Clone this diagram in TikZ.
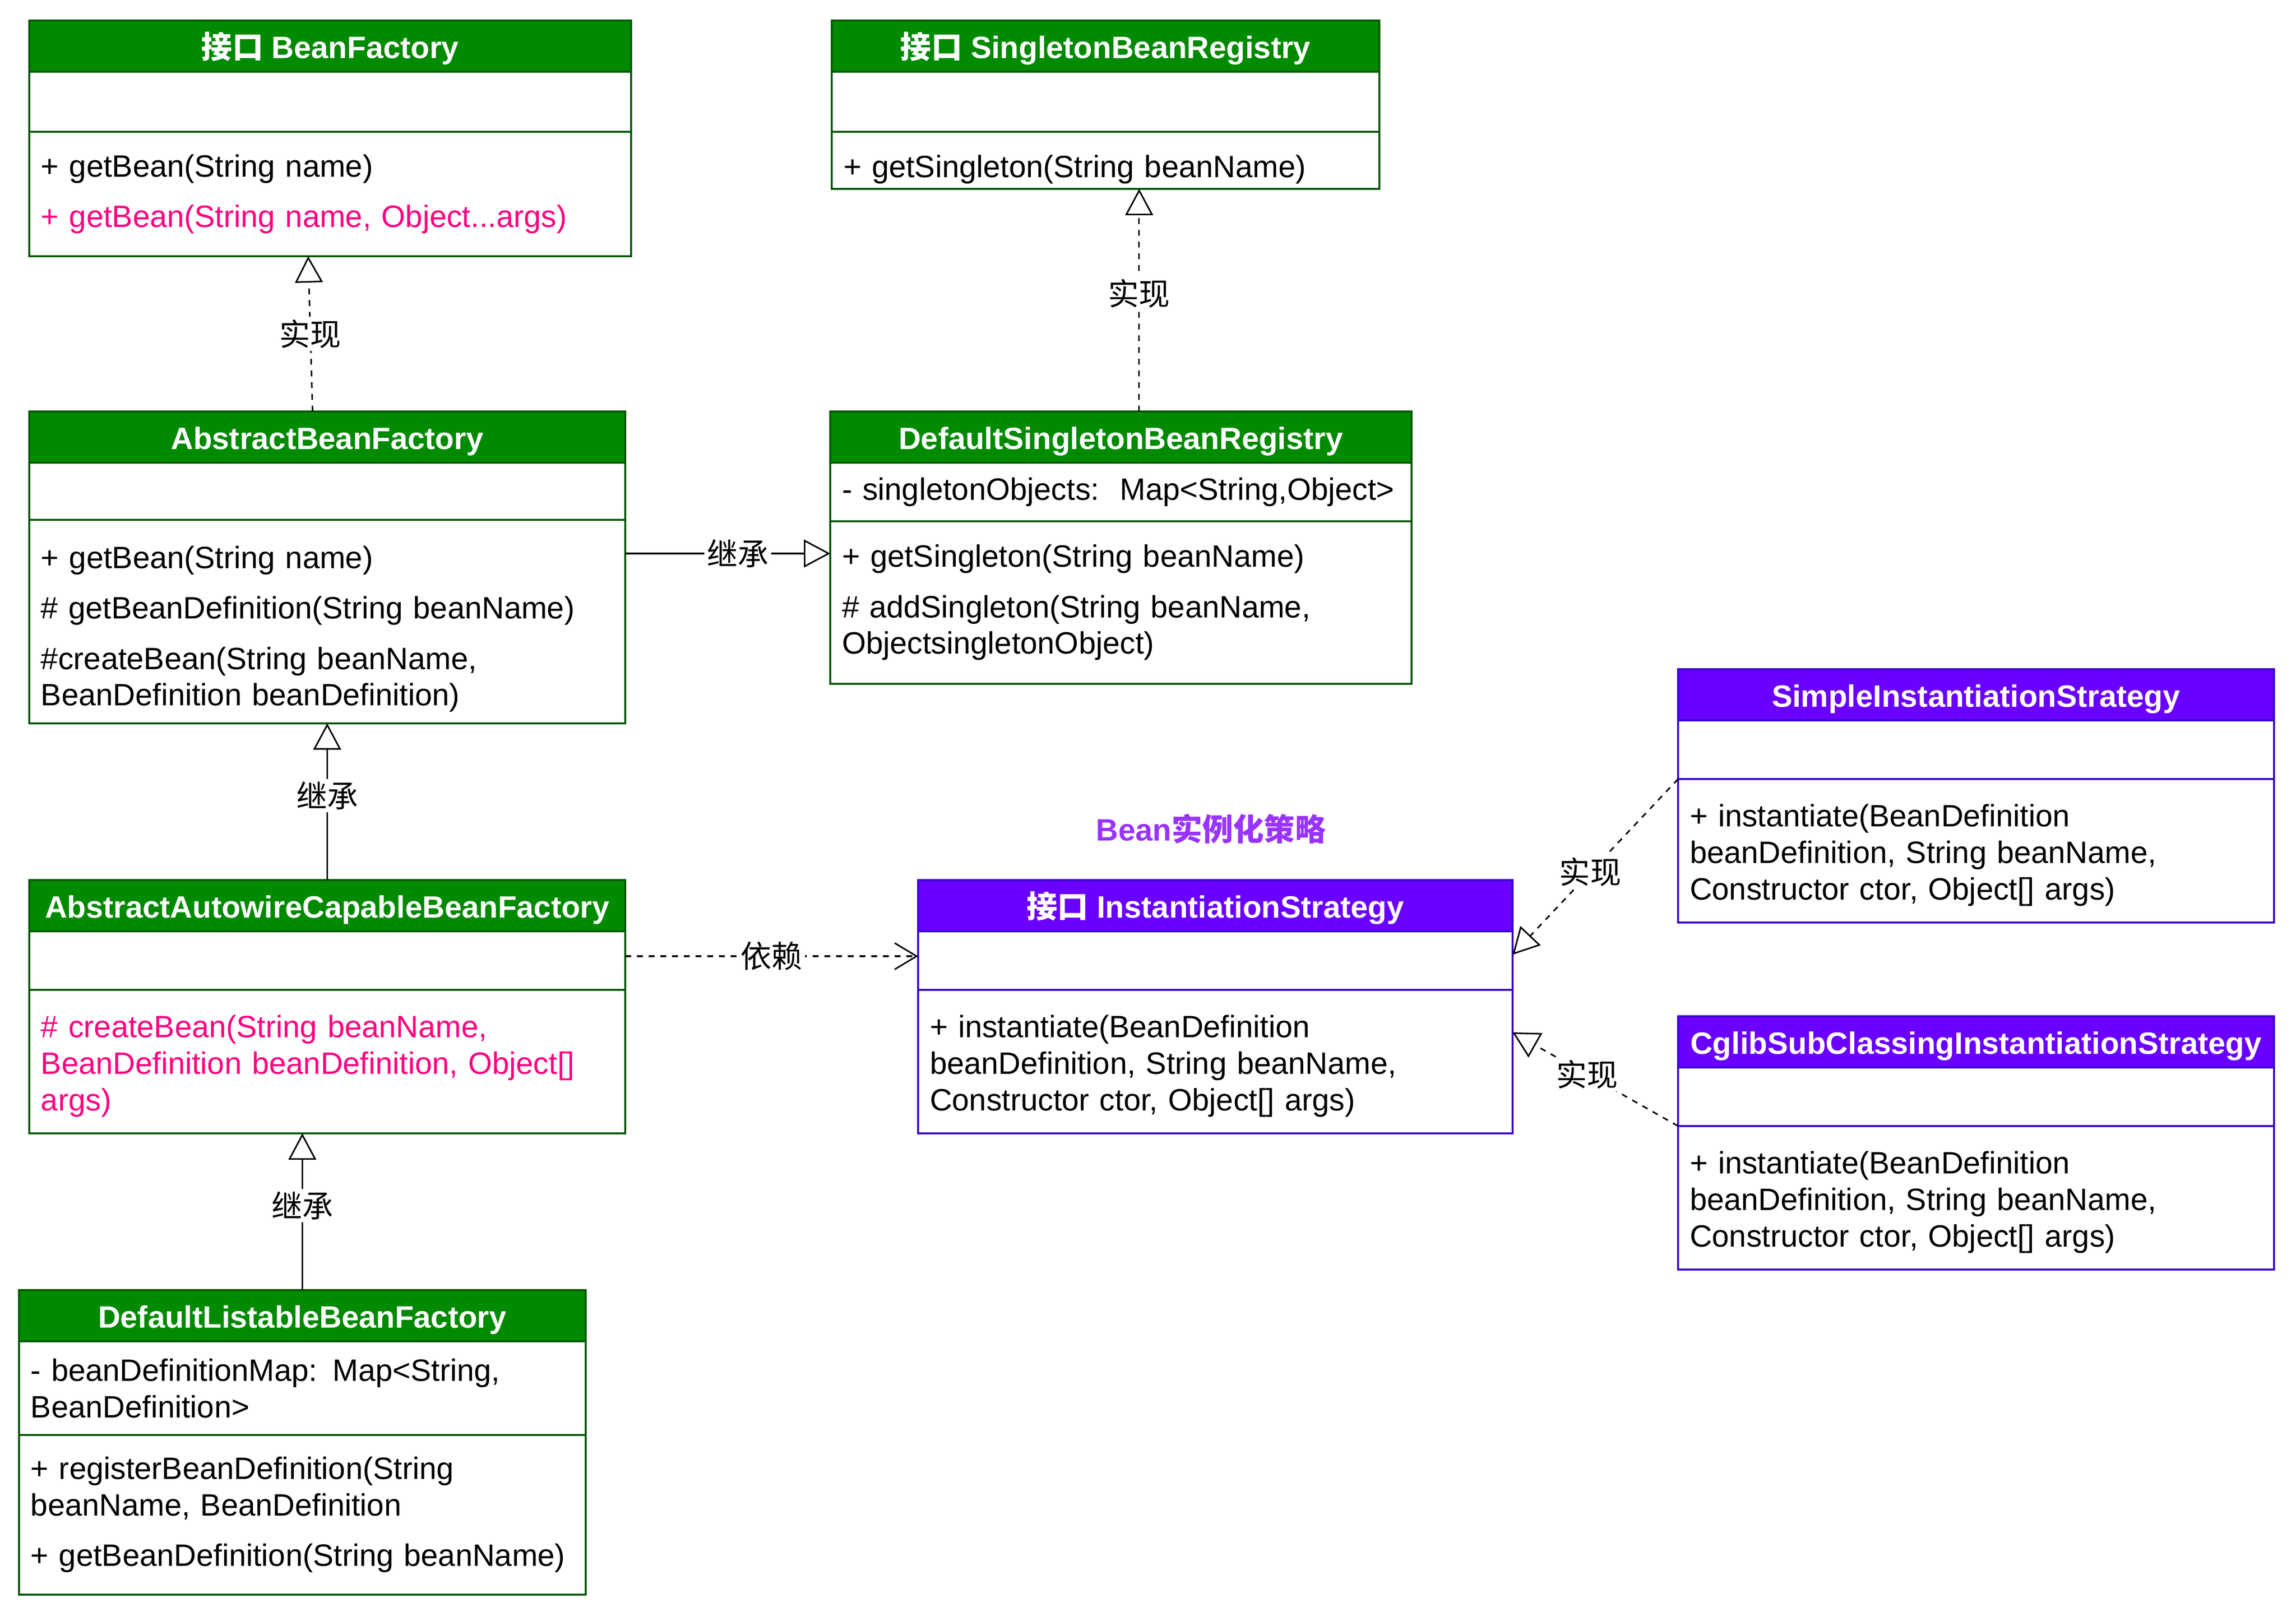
\documentclass[tikz,border=0pt]{standalone}
\usepackage{fontspec}
\setmainfont{Liberation Sans}
\newfontfamily\cjk{Noto Sans CJK SC}
\usepackage{tikz}
\usetikzlibrary{arrows.meta,positioning}
\definecolor{hdgreen}{HTML}{008A00}
\definecolor{lngreen}{HTML}{005700}
\definecolor{hdpurple}{HTML}{6A00FF}
\definecolor{lnpurple}{HTML}{3700CC}
\definecolor{methpink}{HTML}{FF0080}
\definecolor{titlepurple}{HTML}{9933FF}

\begin{document}
\begin{tikzpicture}[x=0.02cm,y=-0.02cm,
	every node/.style={font=\fontsize{12}{14.2}\selectfont, inner sep=0pt, outer sep=0pt},
	box/.style={draw, line width=0.8pt, inner xsep=0.16cm, align=left},
	ghead/.style={box, draw=lngreen, fill=hdgreen, text=white, font=\fontsize{12}{14.2}\selectfont\bfseries, align=center, anchor=north west, text height=9.6pt, text depth=0pt, minimum height=0.7cm},
	gpart/.style={box, draw=lngreen, fill=white},
	phead/.style={box, draw=lnpurple, fill=hdpurple, text=white, font=\fontsize{12}{14.2}\selectfont\bfseries, align=center, anchor=north west, text height=9.6pt, text depth=0pt, minimum height=0.7cm},
	ppart/.style={box, draw=lnpurple, fill=white},
	real/.style={line width=0.6pt, dash pattern=on 0.08cm off 0.08cm, -{Triangle[open, length=0.36cm, width=0.38cm]}},
	inher/.style={line width=0.6pt, -{Triangle[open, length=0.36cm, width=0.38cm]}},
	dep/.style={line width=0.6pt, dash pattern=on 0.08cm off 0.08cm, -{Straight Barb[length=0.3cm, width=0.36cm]}},
	lbl/.style={fill=white, inner sep=1pt, font=\fontsize{12}{14.2}\selectfont\cjk}]
	\useasboundingbox (0,0) rectangle (1568,1106.7);
	\node[ghead, minimum width=8.22cm] (bf) at (20,14) {{\cjk 接口} BeanFactory};
	\node[gpart, minimum width=8.22cm, text width=7.9cm, minimum height=0.82cm, below=0pt of bf] (bf-attr) {};
	\node[gpart, minimum width=8.22cm, text width=7.9cm, minimum height=1.7cm, below=0pt of bf-attr] (bf-meth) {+ getBean(String name)\\[0.19cm]\textcolor{methpink}{+ getBean(String name, Object...args)}};
	\node[ghead, minimum width=7.48cm] (sbr) at (568,14) {{\cjk 接口} SingletonBeanRegistry};
	\node[gpart, minimum width=7.48cm, text width=7.16cm, minimum height=0.82cm, below=0pt of sbr] (sbr-attr) {};
	\node[gpart, minimum width=7.48cm, text width=7.16cm, minimum height=0.78cm, below=0pt of sbr-attr] (sbr-meth) {\rule{0pt}{15.6pt}+ getSingleton(String beanName)};
	\node[ghead, minimum width=8.14cm] (abf) at (20,281) {AbstractBeanFactory};
	\node[gpart, minimum width=8.14cm, text width=7.82cm, minimum height=0.78cm, below=0pt of abf] (abf-attr) {};
	\node[gpart, minimum width=8.14cm, text width=7.82cm, minimum height=2.78cm, below=0pt of abf-attr] (abf-meth) {\rule{0pt}{14.5pt}+ getBean(String name)\\[0.19cm]\# getBeanDefinition(String beanName)\\[0.19cm]\#createBean(String beanName,\\BeanDefinition beanDefinition)};
	\node[ghead, minimum width=7.94cm] (dsbr) at (567,281) {DefaultSingletonBeanRegistry};
	\node[gpart, minimum width=7.94cm, text width=7.62cm, minimum height=0.8cm, below=0pt of dsbr] (dsbr-attr) {- singletonObjects:\ \ Map<String,Object>};
	\node[gpart, minimum width=7.94cm, text width=7.62cm, minimum height=2.22cm, below=0pt of dsbr-attr] (dsbr-meth) {+ getSingleton(String beanName)\\[0.19cm]\# addSingleton(String beanName,\\ObjectsingletonObject)};
	\node[ghead, minimum width=8.14cm] (aacbf) at (20,601) {AbstractAutowireCapableBeanFactory};
	\node[gpart, minimum width=8.14cm, text width=7.82cm, minimum height=0.8cm, below=0pt of aacbf] (aacbf-attr) {};
	\node[gpart, minimum width=8.14cm, text width=7.82cm, minimum height=1.96cm, text=methpink, below=0pt of aacbf-attr] (aacbf-meth) {\rule{0pt}{12.2pt}\# createBean(String beanName,\\BeanDefinition beanDefinition, Object[]\\args)};
	\node[ghead, minimum width=7.74cm] (dlbf) at (13,881) {DefaultListableBeanFactory};
	\node[gpart, minimum width=7.74cm, text width=7.42cm, minimum height=1.28cm, below=0pt of dlbf] (dlbf-attr) {- beanDefinitionMap: Map<String,\\BeanDefinition>};
	\node[gpart, minimum width=7.74cm, text width=7.42cm, minimum height=2.18cm, below=0pt of dlbf-attr] (dlbf-meth) {+ registerBeanDefinition(String\\beanName, BeanDefinition\\[0.19cm]+ getBeanDefinition(String beanName)};
	\node[phead, minimum width=8.12cm] (is) at (627,601) {{\cjk 接口} InstantiationStrategy};
	\node[ppart, minimum width=8.12cm, text width=7.8cm, minimum height=0.8cm, below=0pt of is] (is-attr) {};
	\node[ppart, minimum width=8.12cm, text width=7.8cm, minimum height=1.96cm, below=0pt of is-attr] (is-meth) {\rule{0pt}{12.2pt}+ instantiate(BeanDefinition\\beanDefinition, String beanName,\\Constructor ctor, Object[] args)};
	\node[phead, minimum width=8.14cm] (sis) at (1146,457) {SimpleInstantiationStrategy};
	\node[ppart, minimum width=8.14cm, text width=7.82cm, minimum height=0.8cm, below=0pt of sis] (sis-attr) {};
	\node[ppart, minimum width=8.14cm, text width=7.82cm, minimum height=1.96cm, below=0pt of sis-attr] (sis-meth) {\rule{0pt}{12.2pt}+ instantiate(BeanDefinition\\beanDefinition, String beanName,\\Constructor ctor, Object[] args)};
	\node[phead, minimum width=8.14cm] (csis) at (1146,694) {CglibSubClassingInstantiationStrategy};
	\node[ppart, minimum width=8.14cm, text width=7.82cm, minimum height=0.8cm, below=0pt of csis] (csis-attr) {};
	\node[ppart, minimum width=8.14cm, text width=7.82cm, minimum height=1.96cm, below=0pt of csis-attr] (csis-meth) {\rule{0pt}{12.2pt}+ instantiate(BeanDefinition\\beanDefinition, String beanName,\\Constructor ctor, Object[] args)};
	\node[font=\fontsize{12}{14.2}\selectfont\bfseries, text=titlepurple] (title) at (827,566) {Bean{\cjk 实例化策略}};
	\draw[real] ([xshift=-0.2cm]abf.north) -- ([xshift=-0.3cm]bf-meth.south) node[lbl, midway] {实现};
	\draw[real] ([xshift=0.25cm]dsbr.north) -- ([xshift=0.25cm]dsbr.north |- sbr-meth.south) node[lbl, pos=0.53] {实现};
	\draw[inher] ([yshift=-0.46cm]abf-meth.north east) -- ([yshift=-0.46cm]abf-meth.north east -| dsbr-meth.west) node[lbl, pos=0.55] {继承};
	\draw[inher] (aacbf.north) -- (abf-meth.south) node[lbl, pos=0.54] {继承};
	\draw[inher] (dlbf.north) -- (dlbf.north |- aacbf-meth.south) node[lbl, pos=0.54] {继承};
	\draw[dep] ([yshift=0.06cm]aacbf-attr.east) -- ([yshift=0.06cm]is-attr.west) node[lbl, midway] {依赖};
	\draw[real] (sis-attr.south west) -- ([yshift=0.08cm]is-attr.east) node[lbl, pos=0.53] {实现};
	\draw[real] (csis-attr.south west) -- ([yshift=-0.58cm]is-meth.north east) node[lbl, pos=0.55] {实现};
\end{tikzpicture}
\end{document}
